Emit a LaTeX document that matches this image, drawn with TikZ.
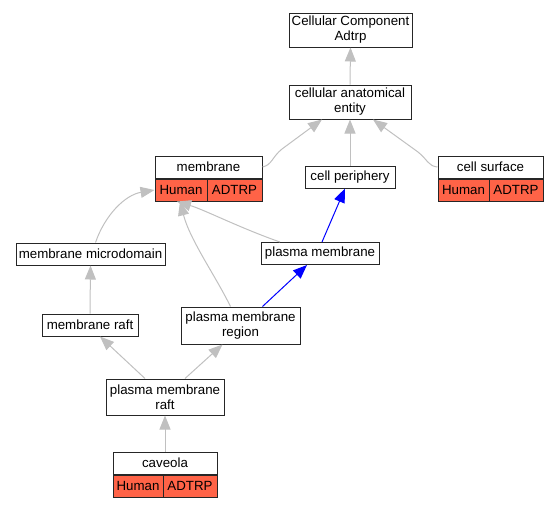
\documentclass[tikz,border=0pt]{standalone}
\usepackage{fontspec}
\setmainfont{Liberation Sans}
\usetikzlibrary{arrows.meta}
\definecolor{linkgray}{RGB}{192,192,192}
\definecolor{tomato}{RGB}{255,99,71}
\begin{document}
\begin{tikzpicture}[x=1pt,y=-1pt]
	\tikzstyle{term}=[draw=black!85,line width=1pt,fill=white,inner sep=0pt,minimum height=22pt,align=center,font=\fontsize{13.3}{15}\selectfont]
	\tikzstyle{cell}=[term,fill=tomato]
	\tikzstyle{link}=[draw=linkgray,line width=1pt,-{Triangle[length=14pt,width=11pt]}]
	\tikzstyle{isa}=[link,draw=blue]

	\useasboundingbox (0,0) rectangle (559,507);

	 \node [term,minimum width=123,minimum height=34] (cc) at (350.5,30) {Cellular Component\\Adtrp};
	 \node [term,minimum width=122,minimum height=34] (cae) at (350,102) {cellular anatomical\\entity};

	 \node [term,minimum width=107] (membrane) at (208.5,167) {membrane};
	 \node [cell,anchor=north west,minimum width=52] (membraneH) at (membrane.south west) {Human};
	 \node [cell,anchor=north east,minimum width=55] (membraneA) at (membrane.south east) {ADTRP};

	 \node [term,minimum width=90] (cp) at (350,177) {cell periphery};

	 \node [term,minimum width=105] (cs) at (490.5,167) {cell surface};
	 \node [cell,anchor=north west,minimum width=51] (csH) at (cs.south west) {Human};
	 \node [cell,anchor=north east,minimum width=54] (csA) at (cs.south east) {ADTRP};

	 \node [term,minimum width=149] (mmd) at (90.5,254) {membrane microdomain};
	 \node [term,minimum width=118] (pm) at (320,253.5) {plasma membrane};
	 \node [term,minimum width=96] (mr) at (90,325) {membrane raft};
	 \node [term,minimum width=119,minimum height=37] (pmr) at (240.5,325.5) {plasma membrane\\region};
	 \node [term,minimum width=118,minimum height=36] (pmraft) at (165,397) {plasma membrane\\raft};

	 \node [term,minimum width=104] (cav) at (165,463) {caveola};
	 \node [cell,anchor=north west,minimum width=50] (cavH) at (cav.south west) {Human};
	 \node [cell,anchor=north east,minimum width=54] (cavA) at (cav.south east) {ADTRP};

	 \path[link] (cae.north) -- (cc.south);
	 \path[link] (membrane.east) .. controls (272,165) and (272,157) .. (282,149) -- ([xshift=-28]cae.south);
	 \path[link] (cp.north) -- (cae.south);
	 \path[link] (cs.west) .. controls (428,166) and (428,160) .. (418,152) -- ([xshift=23]cae.south);
	 \path[link] ([xshift=5]mmd.north) .. controls (105,215) and (125,195) .. (membraneH.west);
	 \path[link] ([xshift=-40]pm.north) .. controls (240,228) and (205,210) .. ([xshift=-4]membraneH.south);
	 \path[link] ([xshift=-10]pmr.north) .. controls (215,275) and (190,240) .. ([xshift=-1]membraneH.south);
	 \path[isa] ([xshift=2]pm.north) -- ([xshift=-5]cp.south);
	 \path[isa] ([xshift=22]pmr.north) -- ([xshift=-13]pm.south);
	 \path[link] (mr.north) -- (mmd.south);
	 \path[link] ([xshift=-20]pmraft.north) -- ([xshift=10]mr.south);
	 \path[link] ([xshift=20]pmraft.north) -- ([xshift=-18]pmr.south);
	 \path[link] (cav.north) -- (pmraft.south);

\end{tikzpicture}
\end{document}
